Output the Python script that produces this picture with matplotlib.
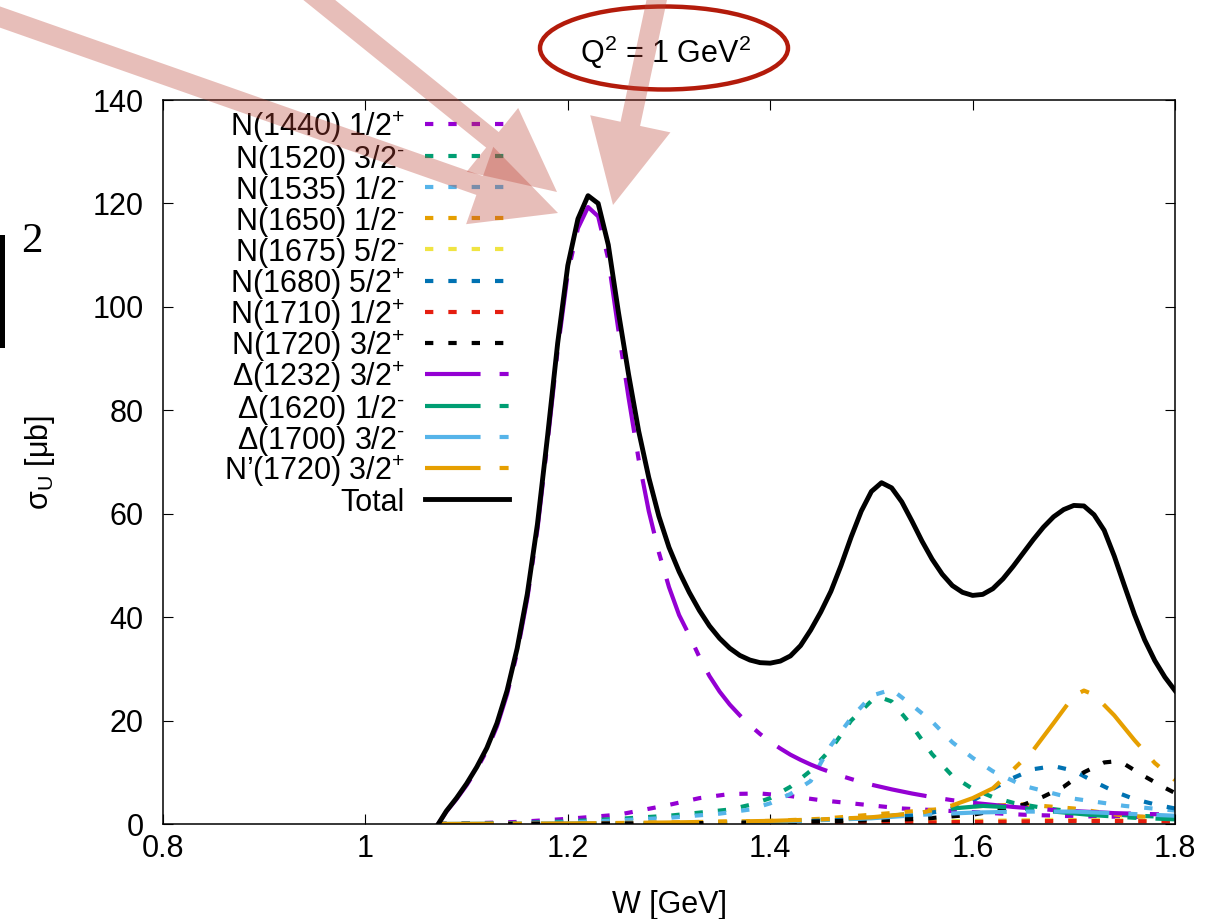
import numpy as np
import matplotlib
matplotlib.use('Agg')
import matplotlib.pyplot as plt
from matplotlib.patches import Polygon, Ellipse
from matplotlib.lines import Line2D

plt.rcParams['font.family'] = 'Liberation Sans'
plt.rcParams['mathtext.fontset'] = 'custom'
plt.rcParams['mathtext.rm'] = 'Liberation Sans'
plt.rcParams['mathtext.it'] = 'Liberation Sans:italic'
plt.rcParams['mathtext.sf'] = 'Liberation Sans'
plt.rcParams['lines.scale_dashes'] = False

# ── data (W in GeV, sigma_U in microbarn) ────────────────────────────────────
w_tot = [1.072, 1.08, 1.09, 1.10, 1.11, 1.12, 1.13, 1.14, 1.15, 1.16, 1.17, 1.18,
         1.19, 1.20, 1.21, 1.22, 1.23, 1.24, 1.25, 1.26, 1.27, 1.28, 1.29, 1.30,
         1.31, 1.32, 1.33, 1.34, 1.35, 1.36, 1.37, 1.38, 1.39, 1.40, 1.41, 1.42,
         1.43, 1.44, 1.45, 1.46, 1.47, 1.48, 1.49, 1.50, 1.51, 1.52, 1.53, 1.54,
         1.55, 1.56, 1.57, 1.58, 1.59, 1.60, 1.61, 1.62, 1.63, 1.64, 1.65, 1.66,
         1.67, 1.68, 1.69, 1.70, 1.71, 1.72, 1.73, 1.74, 1.75, 1.76, 1.77, 1.78,
         1.79, 1.80]
total = [0, 2.5, 5.0, 7.8, 11.0, 14.7, 19.5, 25.8, 34.0, 44.5, 58, 75,
         93, 108, 117, 121.5, 120, 112, 99, 87, 76, 67, 59.5, 53.5,
         48.8, 44.8, 41.3, 38.3, 35.9, 34.0, 32.6, 31.7, 31.2, 31.1, 31.5, 32.5,
         34.5, 37.5, 41, 45, 50, 55.5, 60.5, 64.3, 66.0, 65.0, 62.3, 58.6,
         54.7, 51.2, 48.3, 46.1, 44.8, 44.2, 44.4, 45.5, 47.4, 49.8, 52.4, 55,
         57.4, 59.4, 60.8, 61.6, 61.5, 59.8, 56.8, 51.8, 46.1, 40.5, 35.6, 31.6,
         28.4, 25.8]

w_d1232 = [1.072, 1.08, 1.09, 1.10, 1.11, 1.12, 1.13, 1.14, 1.15, 1.16, 1.17, 1.18,
           1.19, 1.20, 1.21, 1.22, 1.23, 1.24, 1.25, 1.26, 1.27, 1.28, 1.29, 1.30,
           1.31, 1.32, 1.33, 1.34, 1.35, 1.36, 1.37, 1.38, 1.39, 1.40, 1.41, 1.42,
           1.43, 1.44, 1.45, 1.46, 1.47, 1.48, 1.49, 1.50, 1.52, 1.54, 1.56, 1.58,
           1.60, 1.62, 1.64, 1.66, 1.68, 1.70, 1.72, 1.74, 1.76, 1.78, 1.80]
d1232 = [0, 2.4, 4.8, 7.5, 10.6, 14.2, 18.9, 25.1, 33.2, 43.6, 57, 73.8,
         91.7, 106.5, 115.2, 119.3, 117.5, 109.2, 95.5, 82.5, 70.5, 60.5, 52.5, 45.8,
         40.4, 36.5, 32.3, 28.6, 25.6, 23.1, 21.0, 19.1, 17.4, 15.9, 14.6, 13.4,
         12.4, 11.5, 10.7, 10.0, 9.3, 8.7, 8.1, 7.6, 6.7, 5.9, 5.2, 4.6,
         4.1, 3.7, 3.3, 3.0, 2.7, 2.5, 2.3, 2.1, 2.0, 1.9, 1.8]

w_n1440 = [1.072, 1.10, 1.15, 1.20, 1.25, 1.30, 1.33, 1.36, 1.39, 1.42, 1.45, 1.48,
           1.51, 1.53, 1.56, 1.60, 1.65, 1.70, 1.75, 1.80]
n1440 = [0, 0.1, 0.4, 1.0, 1.8, 3.7, 5.0, 5.8, 5.9, 5.4, 4.6, 4.0,
         3.4, 3.0, 2.7, 2.3, 1.8, 1.5, 1.4, 1.3]

w_n1520 = [1.072, 1.15, 1.20, 1.25, 1.30, 1.33, 1.36, 1.38, 1.40, 1.42, 1.44, 1.46,
           1.48, 1.50, 1.51, 1.52, 1.54, 1.56, 1.58, 1.60, 1.62, 1.64, 1.67, 1.70,
           1.75, 1.80]
n1520 = [0, 0.2, 0.5, 1.0, 1.6, 2.2, 2.8, 3.7, 5.0, 7.2, 10.3, 14.5,
         20.0, 23.8, 24.4, 23.7, 19.0, 13.5, 9.3, 6.8, 5.2, 4.1, 3.1, 2.4,
         1.7, 1.3]

w_n1535 = [1.072, 1.15, 1.20, 1.25, 1.30, 1.35, 1.38, 1.40, 1.42, 1.44, 1.45, 1.46,
           1.48, 1.50, 1.52, 1.54, 1.56, 1.58, 1.60, 1.62, 1.65, 1.70, 1.75, 1.80]
n1535 = [0, 0.1, 0.3, 0.7, 1.2, 2.0, 2.8, 4.0, 5.8, 8.3, 11.8, 15.2,
         20.5, 24.8, 26.0, 23.0, 19.8, 15.8, 12.8, 10.2, 7.4, 4.9, 3.5, 2.6]

w_n1650 = [1.072, 1.20, 1.30, 1.40, 1.45, 1.50, 1.55, 1.60, 1.65, 1.70, 1.75, 1.80]
n1650 = [0, 0.1, 0.3, 0.6, 1.0, 1.8, 2.6, 3.4, 3.8, 3.0, 1.6, 1.1]

w_n1675 = [1.072, 1.40, 1.50, 1.60, 1.68, 1.75, 1.80]
n1675 = [0, 0.1, 0.3, 0.6, 0.8, 0.7, 0.6]

w_n1680 = [1.072, 1.30, 1.40, 1.50, 1.55, 1.58, 1.60, 1.62, 1.64, 1.66, 1.68, 1.70,
           1.72, 1.74, 1.76, 1.78, 1.80]
n1680 = [0, 0.1, 0.3, 1.0, 1.8, 3.0, 4.5, 6.8, 8.9, 10.6, 11.2, 10.3,
         8.2, 6.3, 4.8, 3.8, 3.0]

w_n1710 = [1.072, 1.40, 1.50, 1.60, 1.70, 1.80]
n1710 = [0, 0.05, 0.2, 0.4, 0.6, 0.5]

w_n1720 = [1.072, 1.30, 1.40, 1.50, 1.55, 1.60, 1.63, 1.65, 1.67, 1.69, 1.71, 1.73,
           1.74, 1.75, 1.77, 1.79, 1.80]
n1720 = [0, 0.1, 0.3, 0.7, 1.0, 1.8, 2.8, 3.7, 5.3, 7.2, 10.0, 11.9,
         12.1, 11.6, 9.2, 7.0, 6.0]

w_d1620 = [1.072, 1.30, 1.40, 1.50, 1.55, 1.58, 1.61, 1.64, 1.68, 1.72, 1.76, 1.80]
d1620 = [0, 0.1, 0.4, 1.2, 2.2, 3.0, 3.5, 3.2, 2.4, 1.7, 1.2, 0.9]

w_d1700 = [1.072, 1.30, 1.40, 1.50, 1.55, 1.60, 1.65, 1.70, 1.75, 1.80]
d1700 = [0, 0.1, 0.4, 1.1, 1.8, 2.2, 2.4, 2.4, 2.0, 1.6]

w_np1720 = [1.072, 1.20, 1.30, 1.40, 1.45, 1.50, 1.55, 1.58, 1.60, 1.62, 1.64, 1.66,
            1.68, 1.70, 1.71, 1.72, 1.74, 1.76, 1.78, 1.80]
np1720 = [0, 0.1, 0.3, 0.6, 0.9, 1.3, 2.2, 3.6, 5.0, 6.9, 10.5, 14.3,
          19.5, 24.8, 25.8, 25.0, 21.0, 16.2, 11.8, 8.5]

labels = [r'N(1440) 1/2$^{+}$', r'N(1520) 3/2$^{\text{-}}$', r'N(1535) 1/2$^{\text{-}}$',
          r'N(1650) 1/2$^{\text{-}}$', r'N(1675) 5/2$^{\text{-}}$', r'N(1680) 5/2$^{+}$',
          r'N(1710) 1/2$^{+}$', r'N(1720) 3/2$^{+}$', r'Δ(1232) 3/2$^{+}$',
          r'Δ(1620) 1/2$^{\text{-}}$', r'Δ(1700) 3/2$^{\text{-}}$', r'N’(1720) 3/2$^{+}$',
          'Total']
series = [(w_n1440, n1440), (w_n1520, n1520), (w_n1535, n1535), (w_n1650, n1650),
          (w_n1675, n1675), (w_n1680, n1680), (w_n1710, n1710), (w_n1720, n1720),
          (w_d1232, d1232), (w_d1620, d1620), (w_d1700, d1700), (w_np1720, np1720),
          (w_tot, total)]
xticks = [0.8, 1.0, 1.2, 1.4, 1.6, 1.8]
xticklabels = ['0.8', '1', '1.2', '1.4', '1.6', '1.8']
yticks = [0, 20, 40, 60, 80, 100, 120, 140]

# ── styles ───────────────────────────────────────────────────────────────────
colors = ['#9400D3', '#009E73', '#56B4E9', '#E69F00', '#F0E442', '#0072B2',
          '#E51E10', '#000000', '#9400D3', '#009E73', '#56B4E9', '#E69F00',
          '#000000']
dotted = (0, (6, 10.8))
longdot = (0, (40, 13.7, 6.5, 13.7))
styles = [dotted] * 8 + [longdot] * 4 + ['-']
widths = [3.0] * 12 + [3.5]

W, H = 1231, 919
fig = plt.figure(figsize=(W / 100, H / 100), dpi=100)


def fx(x):
    return x / W


def fy(y):
    return 1 - y / H


ax = fig.add_axes([fx(163), fy(824), fx(1175) - fx(163), fy(100) - fy(824)])

for (wx, sy), c, ls, lw in zip(series, colors, styles, widths):
    ax.plot(wx, sy, color=c, linestyle=ls, lw=lw)

ax.set_xlim(0.8, 1.8)
ax.set_ylim(0, 140)
ax.set_xticks(xticks)
ax.set_xticklabels(xticklabels)
ax.set_yticks(yticks)
ax.tick_params(direction='in', length=7, width=0.8, top=True, right=True,
               labelsize=22)
ax.tick_params(axis='x', pad=7)
ax.tick_params(axis='y', pad=14)
for s in ax.spines.values():
    s.set_linewidth(1.1)

fig.text(fx(669), fy(905), 'W [GeV]', fontsize=22, ha='center', va='center')
fig.text(fx(40), fy(462), r'σ$_{\mathrm{U}}$ [μb]', fontsize=22,
         rotation=90, ha='center', va='center')

# ── hand-placed key (text right of x=405, samples 425-509) ──────────────────
for i, (lab, c, ls, lw) in enumerate(zip(labels, colors, styles, widths)):
    ly = 124.3 + i * 31.25
    fig.text(fx(405), fy(ly + 12), lab, fontsize=22, ha='right', va='baseline')
    fig.add_artist(Line2D([fx(425), fx(509)], [fy(ly), fy(ly)], color=c,
                          linestyle=ls, lw=lw))

# ── cropped fragment at the left edge ────────────────────────────────────────
fig.text(fx(21), fy(252), '2', family='Liberation Serif', fontsize=31,
         ha='left', va='baseline')
fig.add_artist(Line2D([fx(2.5), fx(2.5)], [fy(237), fy(345)], color='k', lw=3.6))

# ── Q^2 ellipse ──────────────────────────────────────────────────────────────
fig.text(fx(666), fy(52), r'Q$^2$ = 1 GeV$^2$', fontsize=22,
         ha='center', va='center')
fig.add_artist(Ellipse((fx(664), fy(48)), 248 / W, 83 / H, fill=False,
                       edgecolor='#B31B0B', lw=3.2))


# ── pink annotation arrows (pixel geometry) ──────────────────────────────────
def pink_arrow(tail, tip, shaft=20, head_w=82, head_l=83):
    t = np.array(tail, float)
    p = np.array(tip, float)
    d = (p - t) / np.linalg.norm(p - t)
    n = np.array([-d[1], d[0]])
    b = p - head_l * d
    pts = [t + n * shaft / 2, b + n * shaft / 2, b + n * head_w / 2, p,
           b - n * head_w / 2, b - n * shaft / 2, t - n * shaft / 2]
    pts = [(fx(q[0]), fy(q[1])) for q in pts]
    fig.add_artist(Polygon(pts, closed=True, facecolor='#BD4537', alpha=0.35,
                           lw=0, zorder=10))


pink_arrow((-40, 3), (558, 213))
pink_arrow((297, -18), (557, 192))
pink_arrow((661, -20), (613, 205))

fig.savefig('out.png', dpi=100)
